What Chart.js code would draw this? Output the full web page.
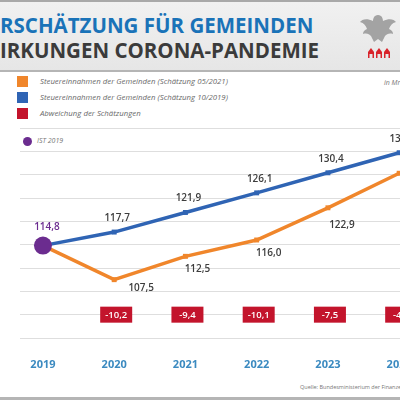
<!DOCTYPE html>
<html lang="de">
<head>
<meta charset="utf-8">
<script src="https://cdn.jsdelivr.net/npm/chart.js@4/dist/chart.umd.min.js"></script>
<style>
  html, body { margin: 0; padding: 0; }
  body { width: 400px; height: 400px; overflow: hidden; position: relative; background: #fff; font-family: "Open Sans", sans-serif; }
  .kopf { position: absolute; left: 0; top: 0; width: 400px; height: 68px; background: linear-gradient(#f1f1f1, #e6e6e6); border-top: 2px solid #a9a9a9; border-bottom: 2px solid #b5b5b5; }
  .titel { position: absolute; left: 0; font-weight: 700; font-size: 20.5px; line-height: 1; white-space: nowrap; }
  .t1 { top: 13px; color: #1a73b8; }
  .t2 { top: 38px; color: #3b3b3b; }
  .logo { position: absolute; left: 358px; top: 10px; }
  .legende { position: absolute; left: 17px; font-size: 7.8px; font-style: italic; color: #6a6a6a; white-space: nowrap; }
  .legende span.box { display: inline-block; width: 11px; height: 11px; vertical-align: middle; margin-right: 12px; }
  .einheit { position: absolute; left: 384px; top: 78px; font-size: 7px; font-style: italic; color: #777; white-space: nowrap; }
  .ist { position: absolute; left: 23px; top: 136px; font-size: 7px; font-style: italic; color: #777; white-space: nowrap; }
  .ist span { display: inline-block; width: 9px; height: 9px; border-radius: 50%; background: #6b2c8f; vertical-align: middle; margin-right: 5px; }
  .quelle { position: absolute; left: 300px; top: 383px; font-size: 5.5px; color: #777; white-space: nowrap; }
  .fuss { position: absolute; left: 0; top: 397px; width: 400px; height: 3px; background: #b5b5b5; }
  #chart-wrap { position: absolute; left: 0; top: 118px; width: 478px; height: 260px; }
</style>
</head>
<body>
<div class="kopf">
  <div class="titel t1">RSCHÄTZUNG FÜR GEMEINDEN</div>
  <div class="titel t2">IRKUNGEN CORONA-PANDEMIE</div>
  <svg class="logo" width="40" height="50" viewBox="0 0 40 50">
    <path d="M20 3 C16 3 15 7 15 9 C9 6 4 7 2 10 C6 11 8 14 9 17 C6 18 5 20 5 22 C9 21 11 22 13 24 L16 30 L20 27 L24 30 L27 24 C29 22 31 21 35 22 C35 20 34 18 31 17 C32 14 34 11 38 10 C36 7 31 6 25 9 C25 7 24 3 20 3 Z" fill="#a3a3a3"/>
    <g fill="#d8232a">
      <path d="M10 46 L10 40 L13 36 L16 40 L16 46 L14.5 46 L14.5 42 L11.5 42 L11.5 46 Z"/>
      <path d="M18 46 L18 40 L21 36 L24 40 L24 46 L22.5 46 L22.5 42 L19.5 42 L19.5 46 Z"/>
      <path d="M26 46 L26 40 L29 36 L32 40 L32 46 L30.5 46 L30.5 42 L27.5 42 L27.5 46 Z"/>
    </g>
  </svg>
</div>

<div class="legende" style="top:76px"><span class="box" style="background:#f0862b"></span>Steuereinnahmen der Gemeinden (Schätzung 05/2021)</div>
<div class="legende" style="top:92px"><span class="box" style="background:#2f64b4"></span>Steuereinnahmen der Gemeinden (Schätzung 10/2019)</div>
<div class="legende" style="top:108px"><span class="box" style="background:#c3142c"></span>Abweichung der Schätzungen</div>
<div class="einheit">in Mrd. Euro</div>
<div class="ist"><span></span>IST 2019</div>

<div id="chart-wrap"><canvas id="chart"></canvas></div>

<div class="quelle">Quelle: Bundesministerium der Finanzen</div>
<div class="fuss"></div>

<script>
const years = [2019, 2020, 2021, 2022, 2023, 2024];
const schaetzung2019 = [114.8, 117.7, 121.9, 126.1, 130.4, 134.7];
const schaetzung2021 = [114.8, 107.5, 112.5, 116.0, 122.9, 130.3];
const abweichung = [null, -10.2, -9.4, -10.1, -7.5, -4.4];
const ist2019 = [114.8];
const yTicks = [95, 100, 105, 110, 115, 120, 125, 130, 135, 140];

const toPoints = (values) => values.map((y, i) => ({x: years[i], y: y}));
const fmt = (v) => v.toFixed(1).replace('.', ',');

const werteLabels = {
  id: 'werteLabels',
  afterDatasetsDraw(chart) {
    const ctx = chart.ctx;
    ctx.save();
    ctx.textAlign = 'center';
    ctx.textBaseline = 'middle';
    chart.data.datasets.forEach((ds, i) => {
      const lab = ds.wertLabel;
      if (!lab) {
        return;
      }
      const meta = chart.getDatasetMeta(i);
      ctx.font = '600 10px "Open Sans"';
      ctx.fillStyle = lab.color;
      meta.data.forEach((pt, j) => {
        if (lab.skip.includes(j)) {
          return;
        }
        const off = lab.offsets[j] || lab.offset;
        ctx.fillText(fmt(ds.data[j].y), pt.x + off[0], pt.y + off[1]);
      });
    });

    const xs = chart.scales.x;
    const ys = chart.scales.y;
    ctx.font = '600 9.5px "Open Sans"';
    abweichung.forEach((d, j) => {
      if (d === null) {
        return;
      }
      const x = xs.getPixelForValue(years[j]) + 2;
      const y = ys.getPixelForValue(100);
      ctx.fillStyle = '#c3142c';
      ctx.fillRect(x - 16, y - 8, 32, 16);
      ctx.fillStyle = '#fff';
      ctx.fillText(fmt(d), x, y + 0.5);
    });
    ctx.restore();
  }
};

new Chart(document.getElementById('chart').getContext('2d'), {
  type: 'line',
  data: {
    datasets: [
      {
        label: 'IST 2019',
        data: toPoints(ist2019),
        showLine: false,
        pointRadius: 9,
        pointBackgroundColor: '#6b2c8f',
        pointBorderWidth: 0,
        order: 0,
        wertLabel: {color: '#6b2c8f', skip: [], offset: [4, -18], offsets: []}
      },
      {
        label: 'Steuereinnahmen der Gemeinden (Schätzung 10/2019)',
        data: toPoints(schaetzung2019),
        borderColor: '#2f64b4',
        backgroundColor: '#2f64b4',
        borderWidth: 3.5,
        pointStyle: 'rect',
        pointRadius: 3.5,
        pointBorderWidth: 0,
        order: 2,
        wertLabel: {color: '#3d3d3d', skip: [0], offset: [3, -14], offsets: []}
      },
      {
        label: 'Steuereinnahmen der Gemeinden (Schätzung 05/2021)',
        data: toPoints(schaetzung2021),
        borderColor: '#f0862b',
        backgroundColor: '#f0862b',
        borderWidth: 3.5,
        pointStyle: 'rect',
        pointRadius: 3.5,
        pointBorderWidth: 0,
        order: 1,
        wertLabel: {color: '#3d3d3d', skip: [0], offset: [12, 13], offsets: [null, [27, 8], null, null, [14, 17], [14, 16]]}
      }
    ]
  },
  options: {
    responsive: true,
    maintainAspectRatio: false,
    animation: false,
    layout: {padding: {left: 20, top: 10, right: 0, bottom: 0}},
    plugins: {
      legend: {display: false},
      tooltip: {enabled: false}
    },
    scales: {
      x: {
        type: 'linear',
        min: 2018.678,
        max: 2024.98,
        grid: {display: false},
        border: {display: false},
        afterFit: (scale) => { scale.height = 40; },
        afterBuildTicks: (scale) => { scale.ticks = years.map((v) => ({value: v})); },
        ticks: {
          callback: (v) => String(v),
          padding: 12,
          color: '#3b8ac0',
          font: {family: 'Open Sans', size: 11, weight: '700'},
          maxRotation: 0,
          autoSkip: false
        }
      },
      y: {
        min: 95,
        max: 140,
        afterBuildTicks: (scale) => { scale.ticks = yTicks.map((v) => ({value: v})); },
        grid: {color: '#dedede', lineWidth: 1, drawTicks: false},
        border: {display: false},
        ticks: {display: false}
      }
    }
  },
  plugins: [werteLabels]
});
</script>
</body>
</html>
